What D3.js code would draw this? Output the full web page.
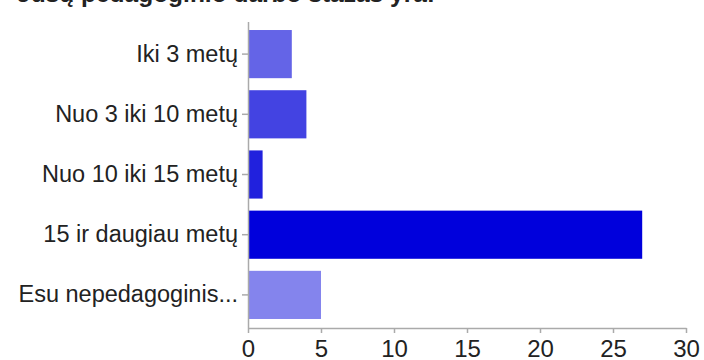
<!DOCTYPE html>
<html><head><meta charset="utf-8">
<script src="https://cdn.jsdelivr.net/npm/d3@7"></script>
<style>body{margin:0;background:#fff}svg{display:block}</style>
</head><body>
<script>
const categories = ["Iki 3 metų","Nuo 3 iki 10 metų","Nuo 10 iki 15 metų","15 ir daugiau metų","Esu nepedagoginis..."];
const values = [3,4,1,27,5];
const colors = ["#6464e7","#4343e2","#2121dd","#0000dc","#8484ed"];
const xTicks = [0,5,10,15,20,25,30];
const title = "Jūsų pedagoginio darbo stažas yra:";

const W=704,H=360;
const svg=d3.select("body").append("svg").attr("width",W).attr("height",H);
const font="'Liberation Sans', Arial, Helvetica, sans-serif";

svg.append("text").attr("x",17).attr("y",2).attr("font-family",font)
  .attr("font-weight","bold").attr("font-size",24.5).attr("fill","#222").text(title);

const x=d3.scaleLinear().domain([0,30]).range([248,686]);
const y=d3.scaleBand().domain(categories).range([24,325]).paddingInner(0.2).paddingOuter(0.1);

svg.selectAll("rect.bar").data(values).enter().append("rect")
  .attr("class","bar")
  .attr("x",x(0)).attr("y",(d,i)=>y(categories[i]))
  .attr("width",d=>x(d)-x(0)).attr("height",y.bandwidth())
  .attr("fill",(d,i)=>colors[i]);

const axisColor="#aaa";
const gx=svg.append("g").attr("transform","translate(0,328)")
  .call(d3.axisBottom(x).tickValues(xTicks).tickSize(5).tickSizeOuter(0).tickPadding(7));
const gy=svg.append("g").attr("transform","translate(248,0)")
  .call(d3.axisLeft(y).tickSize(6).tickSizeOuter(0).tickPadding(4));
gy.select(".domain").attr("d","M0.5,22V328");
[gx,gy].forEach(g=>{
  g.selectAll("path,line").attr("stroke",axisColor).attr("stroke-width",1.5);
  g.selectAll("text").attr("font-family",font).attr("fill","#222");
});
gx.selectAll("text").attr("font-size",24);
gy.selectAll("text").attr("font-size",23.5);
</script>
</body></html>
